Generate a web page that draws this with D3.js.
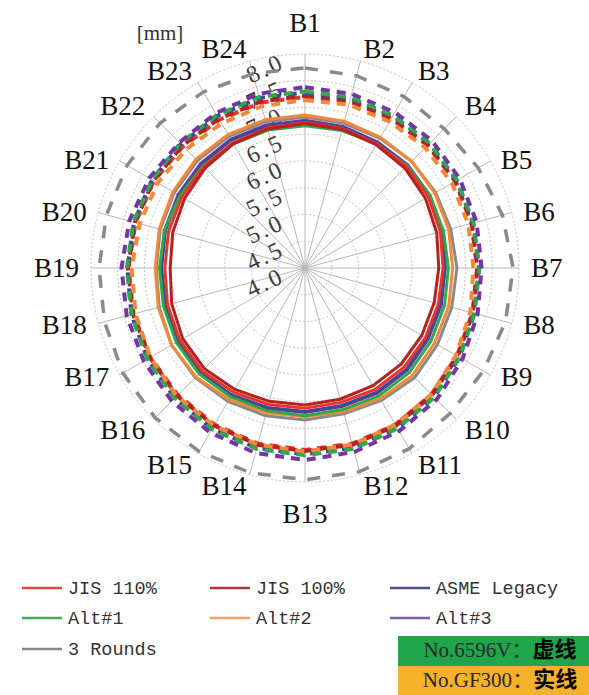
<!DOCTYPE html>
<html><head><meta charset="utf-8">
<script src="https://cdn.jsdelivr.net/npm/d3@7"></script>
<style>body{margin:0;background:#fff}svg{display:block}</style>
</head><body>
<svg id="chart" width="589" height="695"></svg>
<script>
const categories = ["B1","B2","B3","B4","B5","B6","B7","B8","B9","B10","B11","B12","B13","B14","B15","B16","B17","B18","B19","B20","B21","B22","B23","B24"];
const radialTicks = [4.0,4.5,5.0,5.5,6.0,6.5,7.0,7.5,8.0];
const seriesNames = ["JIS 110%","JIS 100%","ASME Legacy","Alt#1","Alt#2","Alt#3","3 Rounds"];
const seriesColors = ["#e8352b","#b52220","#3e4a96","#2ea84a","#f08a3a","#7535a5","#8a8a8a"];
const legendColors = ["#e04a40","#b03a3a","#4b5090","#4aa85a","#eea070","#8060a8","#888888"];

// No.6596V (dashed)
const dJIS110 = [7.20,7.22,7.22,7.24,7.24,7.22,7.22,7.24,7.28,7.34,7.38,7.40,7.40,7.40,7.38,7.36,7.34,7.32,7.30,7.28,7.26,7.22,7.20,7.20];
const dJIS100 = [7.22,7.24,7.24,7.25,7.25,7.23,7.22,7.25,7.30,7.36,7.40,7.42,7.42,7.42,7.40,7.38,7.35,7.33,7.31,7.29,7.27,7.24,7.22,7.22];
const dASME   = [7.28,7.28,7.28,7.29,7.27,7.25,7.25,7.27,7.33,7.41,7.45,7.48,7.48,7.48,7.47,7.44,7.40,7.36,7.32,7.31,7.30,7.28,7.28,7.29];
const dAlt1   = [7.30,7.30,7.29,7.30,7.28,7.26,7.26,7.28,7.34,7.42,7.46,7.50,7.50,7.50,7.48,7.44,7.40,7.36,7.33,7.32,7.30,7.30,7.30,7.31];
const dAlt2   = [7.14,7.16,7.16,7.18,7.17,7.16,7.15,7.20,7.26,7.34,7.38,7.42,7.43,7.42,7.40,7.39,7.34,7.28,7.24,7.20,7.18,7.14,7.12,7.13];
const dAlt3   = [7.38,7.37,7.36,7.36,7.34,7.32,7.30,7.34,7.40,7.48,7.52,7.56,7.59,7.58,7.55,7.52,7.48,7.45,7.43,7.40,7.36,7.32,7.34,7.37];
const d3Rounds= [7.74,7.72,7.70,7.68,7.74,7.82,7.89,7.88,7.85,7.84,7.90,7.94,7.96,7.96,7.96,7.96,7.93,7.88,7.85,7.84,7.84,7.83,7.80,7.76];

// No.GF300 (solid)
const sJIS110 = [6.72,6.70,6.68,6.68,6.66,6.62,6.58,6.58,6.60,6.62,6.62,6.60,6.62,6.64,6.68,6.72,6.70,6.66,6.62,6.64,6.66,6.68,6.70,6.71];
const sJIS100 = [6.70,6.68,6.66,6.64,6.60,6.55,6.50,6.50,6.52,6.54,6.54,6.54,6.56,6.58,6.62,6.66,6.64,6.58,6.52,6.56,6.60,6.64,6.68,6.69];
const sASME   = [6.74,6.72,6.70,6.70,6.68,6.64,6.62,6.62,6.64,6.68,6.68,6.66,6.68,6.70,6.74,6.76,6.74,6.70,6.68,6.70,6.72,6.74,6.76,6.75];
const sAlt1   = [6.66,6.66,6.68,6.70,6.70,6.68,6.68,6.70,6.72,6.76,6.76,6.74,6.76,6.76,6.78,6.80,6.78,6.74,6.72,6.72,6.70,6.70,6.68,6.67];
const sAlt2   = [6.86,6.84,6.82,6.82,6.80,6.78,6.76,6.78,6.80,6.84,6.82,6.78,6.78,6.80,6.84,6.88,6.88,6.84,6.80,6.82,6.85,6.88,6.88,6.87];
const sAlt3   = [6.76,6.74,6.72,6.72,6.70,6.66,6.62,6.64,6.66,6.70,6.70,6.68,6.70,6.72,6.76,6.78,6.76,6.72,6.70,6.72,6.74,6.76,6.78,6.77];
const s3Rounds= [6.82,6.80,6.80,6.82,6.82,6.82,6.84,6.84,6.86,6.90,6.86,6.82,6.84,6.86,6.88,6.90,6.88,6.82,6.78,6.80,6.82,6.84,6.84,6.83];

const dashedSeries = [dJIS110,dJIS100,dASME,dAlt1,dAlt2,dAlt3];
const solidSeries  = [sJIS110,sJIS100,sASME,sAlt1,sAlt2,sAlt3,s3Rounds];

const svg = d3.select("#chart");
const cx = 305, cy = 268, R = 214;
const r = d3.scaleLinear().domain([4,8]).range([0,R]);
const ang = d3.scalePoint().domain(categories).range([0, 2*Math.PI*23/24]);
const g = svg.append("g").attr("transform",`translate(${cx},${cy})`);

// grid circles
g.selectAll("circle.grid").data(radialTicks.slice(1)).join("circle")
  .attr("r", d=>r(d)).attr("fill","none").attr("stroke","#c4c4c4")
  .attr("stroke-width",1).attr("stroke-dasharray","2,2");
// spokes
g.selectAll("line.spoke").data(categories).join("line")
  .attr("x1",0).attr("y1",0)
  .attr("x2",d=>R*Math.sin(ang(d))).attr("y2",d=>-R*Math.cos(ang(d)))
  .attr("stroke","#b8b8b8").attr("stroke-width",1);

// category labels
g.selectAll("text.cat").data(categories).join("text")
  .attr("font-family","Liberation Serif, serif").attr("font-size",27).attr("fill","#111")
  .each(function(d){
    const a = ang(d), s = Math.sin(a), c = Math.cos(a);
    const mid = Math.abs(s) < 0.05;
    let x = (R+12)*s, y = -(R+3)*c;
    if (mid) y = c>0 ? -(R+22) : (R+23);
    const anchor = s>0.05 ? "start" : (s<-0.05 ? "end" : "middle");
    let dy = "0.35em";
    if (c > 0.55) dy = "0em"; else if (c < -0.55) dy = "0.66em";
    d3.select(this).attr("x",x).attr("y",y).attr("dy",dy).attr("text-anchor",anchor).text(d);
  });

// radial tick labels
g.selectAll("text.tick").data(radialTicks).join("text")
  .attr("font-family","Liberation Serif, serif").attr("font-size",24).attr("fill","#3c3c3c")
  .attr("letter-spacing",3).attr("text-anchor","middle")
  .attr("transform",d=>`translate(-40,${-r(d)+14}) rotate(-25)`)
  .attr("dy","0.35em").text(d=>d.toFixed(1));

svg.append("text").attr("x",160).attr("y",40).attr("text-anchor","middle")
  .attr("font-family","Liberation Serif, serif").attr("font-size",21).attr("fill","#333").text("[mm]");

const line = d3.lineRadial().angle((d,i)=>ang(categories[i])).radius(d=>r(d)).curve(d3.curveLinearClosed);

// 3 Rounds dashed
g.append("path").attr("d",line(d3Rounds)).attr("fill","none")
  .attr("stroke",seriesColors[6]).attr("stroke-width",3.5).attr("stroke-dasharray","13,12");
// colored dashed
dashedSeries.forEach((vals,i)=>{
  g.append("path").attr("d",line(vals)).attr("fill","none")
   .attr("stroke",seriesColors[i]).attr("stroke-width",4).attr("stroke-dasharray","9,7");
});
// solid
const solidOrder = [6,4,5,2,3,0,1];
solidOrder.forEach(i=>{
  g.append("path").attr("d",line(solidSeries[i])).attr("fill","none")
   .attr("stroke",seriesColors[i]).attr("stroke-width",3);
});

// legend
const colX = [22,210,390], rowY = [588,618,649];
const leg = svg.append("g");
seriesNames.forEach((n,i)=>{
  const x = colX[i%3], y = rowY[Math.floor(i/3)];
  leg.append("line").attr("x1",x).attr("x2",x+40).attr("y1",y).attr("y2",y)
    .attr("stroke",legendColors[i]).attr("stroke-width",2.5);
  leg.append("text").attr("x",x+46).attr("y",y).attr("dy","0.35em")
    .attr("font-family","Liberation Mono, monospace").attr("font-size",18.5).attr("fill","#333").text(n);
});

// boxes
const boxes = [{label:"No.6596V",cn:"虚线",fill:"#1fa54a"},{label:"No.GF300",cn:"实线",fill:"#f3b12c"}];
boxes.forEach((b,i)=>{
  const y0 = 636 + i*30;
  svg.append("rect").attr("x",398).attr("y",y0).attr("width",191).attr("height",30).attr("fill",b.fill);
  const t = svg.append("text").attr("x",500).attr("y",y0+15).attr("dy","0.36em").attr("text-anchor","middle");
  t.append("tspan").attr("font-family","Liberation Serif, serif").attr("font-size",21).attr("fill","#2a2a2a").text(b.label);
  t.append("tspan").attr("font-family","Noto Sans CJK SC").attr("font-size",21).attr("fill","#2a2a2a").text("：");
  t.append("tspan").attr("font-family","Noto Sans CJK SC").attr("font-weight","bold").attr("font-size",22).attr("fill","#000").text(b.cn);
});
</script>
</body></html>
